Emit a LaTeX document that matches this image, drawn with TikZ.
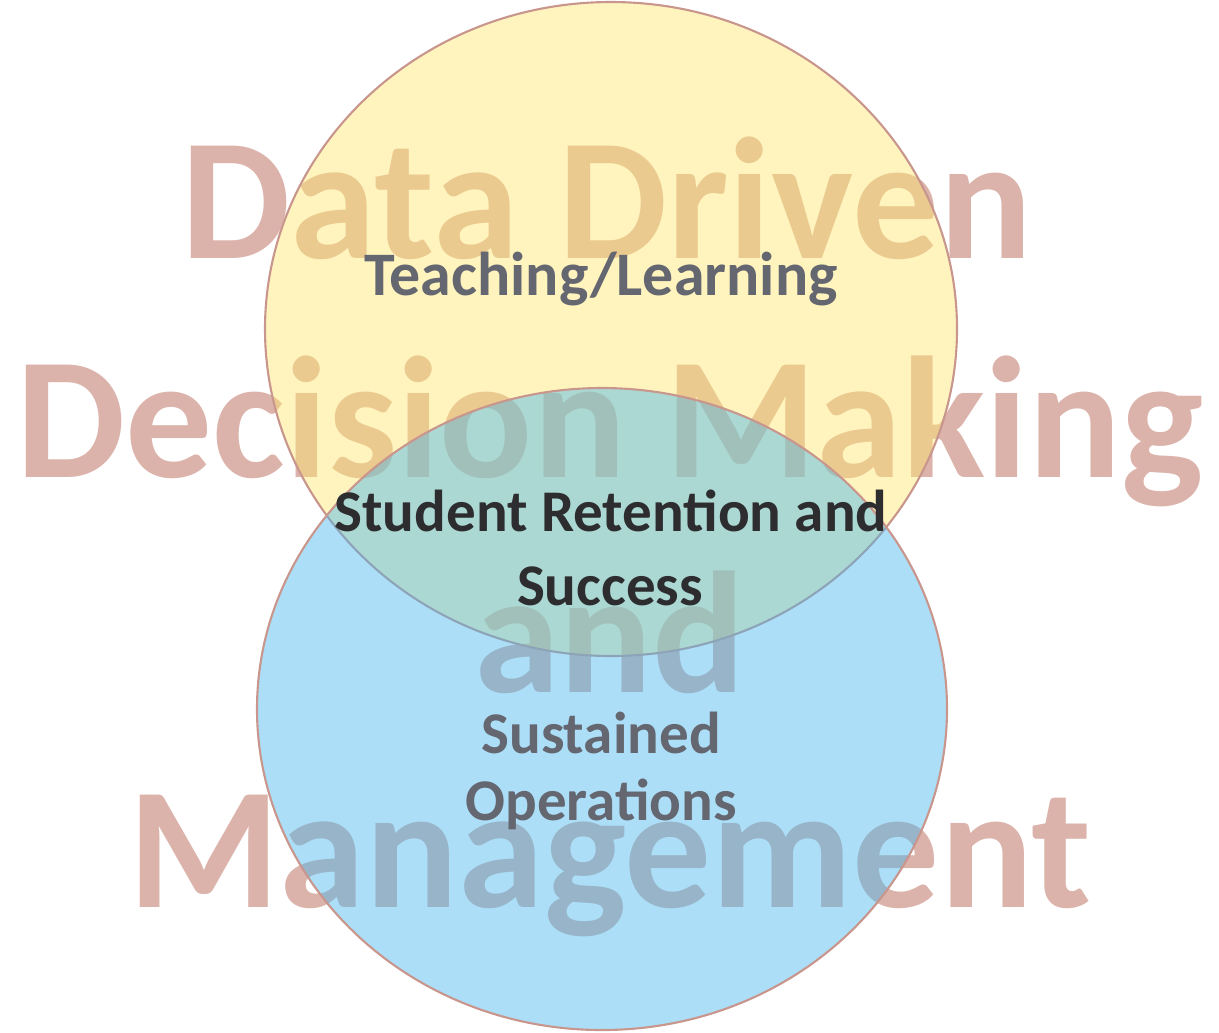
\documentclass[tikz,border=0pt]{standalone}
\usepackage{fontspec}
\setmainfont{Carlito}
\definecolor{teachyellow}{RGB}{255,231,111}
\definecolor{opsblue}{RGB}{71,182,238}
\definecolor{rimbrown}{RGB}{200,150,140}
\definecolor{bigrose}{RGB}{219,179,171}
\definecolor{labelgray}{RGB}{100,102,112}
\definecolor{labeldark}{RGB}{45,45,48}

\begin{document}
\begin{tikzpicture}[x=0.01cm,y=-0.01cm,
    area/.style={draw=rimbrown,line width=0.6pt},
    bigword/.style={anchor=base,text=bigrose,inner sep=0pt,
                    font=\fontsize{49.3}{58}\selectfont\bfseries},
    label/.style={anchor=base,inner sep=0pt,
                  font=\fontsize{16.8}{20}\selectfont\bfseries}]
  \useasboundingbox (0,0) rectangle (1219,1032);

  % big title behind everything
  \node[bigword] (title1) at (607,258) {Data Driven};
  \node[bigword] (title2) at (610,477) {Decision Making};
  \node[bigword] (title3) at (610,692) {and};
  \node[bigword] (title4) at (610,907) {Management};

  % the two circles
  \path[area,fill=teachyellow,fill opacity=0.45] (611,329) ellipse [x radius=346,y radius=327];
  \path[area,fill=opsblue,fill opacity=0.45] (602,709) ellipse [x radius=345,y radius=321];

  \node[label,text=labelgray,font=\fontsize{17.6}{21}\selectfont\bfseries] (teach) at (601,295) {Teaching/Learning};
  \node[label,text=labeldark] (reten) at (611,531) {Student Retention and};
  \node[label,text=labeldark] (succ)  at (610,605) {Success};
  \node[label,text=labelgray] (sust)  at (601,753) {Sustained};
  \node[label,text=labelgray] (oper)  at (601,820) {Operations};
\end{tikzpicture}
\end{document}
